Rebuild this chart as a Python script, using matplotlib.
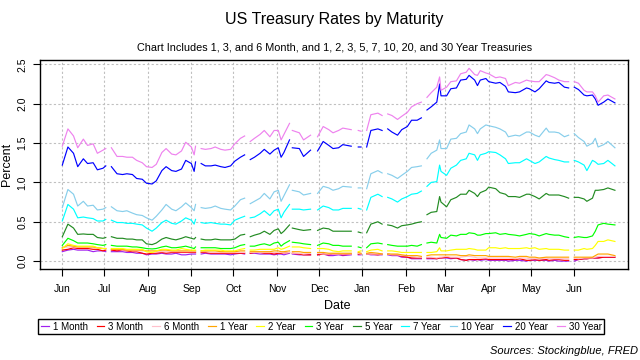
import matplotlib
matplotlib.use("Agg")
import matplotlib.pyplot as plt
import matplotlib.dates as mdates
import pandas as pd

plt.rcParams['font.family'] = ['Liberation Sans', 'DejaVu Sans']

# sample dates (market holidays are added later as empty rows so the lines break)
dates = [
    '2020-06-01', '2020-06-05', '2020-06-09', '2020-06-12', '2020-06-16', '2020-06-19', '2020-06-23',
    '2020-06-26', '2020-06-30', '2020-07-02',
    '2020-07-06', '2020-07-10', '2020-07-14', '2020-07-17', '2020-07-21', '2020-07-24', '2020-07-28', '2020-07-31',
    '2020-08-04', '2020-08-07', '2020-08-11', '2020-08-14', '2020-08-18', '2020-08-21', '2020-08-25', '2020-08-28',
    '2020-09-01', '2020-09-03', '2020-09-04', '2020-09-08', '2020-09-11', '2020-09-15', '2020-09-18', '2020-09-22',
    '2020-09-25', '2020-09-29',
    '2020-10-02', '2020-10-06', '2020-10-09', '2020-10-13', '2020-10-16', '2020-10-20', '2020-10-23', '2020-10-27',
    '2020-10-30',
    '2020-11-02', '2020-11-04', '2020-11-06', '2020-11-10', '2020-11-12', '2020-11-17', '2020-11-20', '2020-11-25',
    '2020-11-30', '2020-12-04', '2020-12-08', '2020-12-11', '2020-12-15', '2020-12-18', '2020-12-24', '2020-12-29',
    '2020-12-31',
    '2021-01-04', '2021-01-07', '2021-01-12', '2021-01-15', '2021-01-19', '2021-01-22', '2021-01-26', '2021-01-29',
    '2021-02-02', '2021-02-05', '2021-02-09', '2021-02-12', '2021-02-16', '2021-02-19', '2021-02-23', '2021-02-25',
    '2021-02-26',
    '2021-03-02', '2021-03-05', '2021-03-09', '2021-03-12', '2021-03-16', '2021-03-18', '2021-03-22', '2021-03-24',
    '2021-03-26', '2021-03-30',
    '2021-04-01', '2021-04-06', '2021-04-09', '2021-04-13', '2021-04-15', '2021-04-20', '2021-04-23', '2021-04-28',
    '2021-04-30',
    '2021-05-04', '2021-05-07', '2021-05-12', '2021-05-14', '2021-05-18', '2021-05-21', '2021-05-25', '2021-05-28',
    '2021-06-01', '2021-06-04', '2021-06-08', '2021-06-10', '2021-06-14', '2021-06-16', '2021-06-18', '2021-06-22',
    '2021-06-25', '2021-06-30',
]
holidays = ['2020-07-03', '2020-09-07', '2020-10-12', '2020-11-11', '2020-11-26', '2020-12-25',
            '2021-01-01', '2021-01-18', '2021-02-15', '2021-05-31']

m1 = [0.12, 0.14, 0.15, 0.14, 0.14, 0.14, 0.12, 0.13, 0.13, 0.12,
      0.12, 0.12, 0.12, 0.11, 0.11, 0.10, 0.10, 0.08,
      0.09, 0.09, 0.10, 0.09, 0.09, 0.10, 0.08, 0.08,
      0.09, 0.09, 0.09, 0.09, 0.10, 0.09, 0.09, 0.09, 0.09, 0.08,
      0.09, 0.10, 0.09, 0.10, 0.10, 0.09, 0.09, 0.09, 0.08,
      0.09, 0.09, 0.08, 0.10, 0.09, 0.08, 0.08, 0.08,
      0.08, 0.09, 0.07, 0.07, 0.08, 0.07, 0.08, 0.08, 0.08,
      0.09, 0.08, 0.08, 0.08, 0.08, 0.07, 0.07, 0.05,
      0.05, 0.03, 0.03, 0.03, 0.03, 0.03, 0.03, 0.04, 0.04,
      0.04, 0.03, 0.04, 0.02, 0.01, 0.02, 0.01, 0.02, 0.01, 0.02,
      0.01, 0.01, 0.01, 0.01, 0.00, 0.01, 0.01, 0.00, 0.01,
      0.01, 0.01, 0.01, 0.00, 0.01, 0.00, 0.00, 0.00,
      0.00, 0.02, 0.03, 0.03, 0.04, 0.04, 0.04, 0.05, 0.05, 0.05]
m3 = [0.14, 0.15, 0.17, 0.16, 0.16, 0.16, 0.15, 0.15, 0.13, 0.14,
      0.14, 0.13, 0.14, 0.13, 0.12, 0.12, 0.10, 0.09,
      0.10, 0.10, 0.11, 0.10, 0.11, 0.11, 0.11, 0.11,
      0.11, 0.11, 0.11, 0.11, 0.11, 0.10, 0.10, 0.10, 0.10, 0.10,
      0.10, 0.10, 0.10, 0.10, 0.11, 0.11, 0.10, 0.10, 0.09,
      0.10, 0.10, 0.10, 0.11, 0.10, 0.09, 0.08, 0.08,
      0.08, 0.09, 0.08, 0.09, 0.09, 0.08, 0.09, 0.09, 0.09,
      0.09, 0.09, 0.08, 0.09, 0.09, 0.08, 0.08, 0.06,
      0.05, 0.04, 0.04, 0.04, 0.04, 0.04, 0.03, 0.04, 0.04,
      0.05, 0.04, 0.04, 0.02, 0.01, 0.02, 0.02, 0.02, 0.02, 0.03,
      0.02, 0.02, 0.02, 0.02, 0.02, 0.02, 0.03, 0.01, 0.01,
      0.02, 0.01, 0.02, 0.01, 0.02, 0.02, 0.01, 0.01,
      0.02, 0.02, 0.03, 0.03, 0.04, 0.04, 0.04, 0.05, 0.05, 0.05]
m6 = [0.17, 0.18, 0.18, 0.18, 0.18, 0.18, 0.18, 0.17, 0.16, 0.16,
      0.15, 0.15, 0.14, 0.14, 0.13, 0.13, 0.13, 0.12,
      0.11, 0.12, 0.12, 0.12, 0.12, 0.12, 0.12, 0.12,
      0.12, 0.12, 0.12, 0.12, 0.12, 0.11, 0.11, 0.11, 0.11, 0.11,
      0.11, 0.11, 0.11, 0.11, 0.11, 0.11, 0.11, 0.11, 0.11,
      0.11, 0.11, 0.10, 0.11, 0.10, 0.10, 0.09, 0.10,
      0.10, 0.09, 0.09, 0.09, 0.09, 0.09, 0.09, 0.10, 0.09,
      0.09, 0.09, 0.09, 0.09, 0.09, 0.08, 0.08, 0.07,
      0.07, 0.06, 0.05, 0.05, 0.05, 0.05, 0.04, 0.05, 0.05,
      0.06, 0.05, 0.05, 0.05, 0.06, 0.06, 0.05, 0.04, 0.04, 0.04,
      0.04, 0.04, 0.04, 0.04, 0.04, 0.03, 0.04, 0.04, 0.03,
      0.03, 0.03, 0.04, 0.03, 0.03, 0.03, 0.03, 0.03,
      0.04, 0.03, 0.04, 0.04, 0.04, 0.05, 0.06, 0.06, 0.06, 0.06]
y1 = [0.17, 0.20, 0.19, 0.18, 0.18, 0.18, 0.18, 0.17, 0.16, 0.16,
      0.15, 0.15, 0.15, 0.14, 0.14, 0.14, 0.14, 0.13,
      0.13, 0.13, 0.14, 0.14, 0.13, 0.13, 0.13, 0.13,
      0.13, 0.13, 0.13, 0.13, 0.13, 0.13, 0.13, 0.12, 0.12, 0.12,
      0.12, 0.13, 0.13, 0.12, 0.12, 0.12, 0.12, 0.12, 0.13,
      0.13, 0.12, 0.12, 0.13, 0.12, 0.12, 0.11, 0.11,
      0.11, 0.11, 0.10, 0.10, 0.10, 0.10, 0.10, 0.11, 0.10,
      0.10, 0.11, 0.10, 0.09, 0.09, 0.09, 0.09, 0.08,
      0.07, 0.07, 0.07, 0.06, 0.07, 0.08, 0.08, 0.08, 0.08,
      0.08, 0.08, 0.08, 0.07, 0.07, 0.08, 0.07, 0.07, 0.07, 0.07,
      0.06, 0.06, 0.06, 0.06, 0.06, 0.05, 0.06, 0.06, 0.05,
      0.05, 0.04, 0.05, 0.05, 0.05, 0.05, 0.05, 0.05,
      0.05, 0.05, 0.05, 0.05, 0.05, 0.07, 0.09, 0.09, 0.09, 0.07]
y2 = [0.16, 0.22, 0.20, 0.19, 0.19, 0.19, 0.19, 0.17, 0.16, 0.16,
      0.16, 0.16, 0.16, 0.15, 0.15, 0.15, 0.15, 0.12,
      0.11, 0.13, 0.15, 0.15, 0.14, 0.14, 0.16, 0.15,
      0.14, 0.14, 0.14, 0.13, 0.14, 0.14, 0.14, 0.14, 0.13, 0.13,
      0.13, 0.15, 0.16, 0.14, 0.14, 0.15, 0.15, 0.15, 0.15,
      0.17, 0.15, 0.16, 0.19, 0.18, 0.18, 0.17, 0.16,
      0.16, 0.16, 0.15, 0.13, 0.12, 0.13, 0.13, 0.12, 0.13,
      0.12, 0.14, 0.15, 0.13, 0.13, 0.13, 0.12, 0.11,
      0.11, 0.11, 0.11, 0.11, 0.11, 0.11, 0.12, 0.17, 0.13,
      0.13, 0.14, 0.15, 0.15, 0.15, 0.16, 0.15, 0.14, 0.14, 0.14,
      0.17, 0.17, 0.16, 0.17, 0.16, 0.16, 0.16, 0.17, 0.16,
      0.17, 0.15, 0.16, 0.15, 0.15, 0.15, 0.14, 0.14,
      0.14, 0.14, 0.16, 0.15, 0.16, 0.20, 0.25, 0.25, 0.27, 0.25]
y3 = [0.20, 0.29, 0.26, 0.23, 0.23, 0.23, 0.22, 0.21, 0.20, 0.21,
      0.20, 0.19, 0.19, 0.19, 0.18, 0.18, 0.17, 0.16,
      0.155, 0.16, 0.18, 0.19, 0.17, 0.17, 0.18, 0.19,
      0.17, 0.16, 0.18, 0.17, 0.17, 0.17, 0.17, 0.16, 0.16, 0.16,
      0.17, 0.20, 0.21, 0.19, 0.19, 0.21, 0.22, 0.20, 0.23,
      0.24, 0.19, 0.22, 0.26, 0.24, 0.23, 0.22, 0.21,
      0.20, 0.23, 0.22, 0.20, 0.20, 0.19, 0.19, 0.18, 0.17,
      0.17, 0.22, 0.23, 0.22, 0.21, 0.20, 0.19, 0.19,
      0.19, 0.20, 0.19, 0.21, 0.23, 0.24, 0.23, 0.34, 0.30,
      0.29, 0.33, 0.32, 0.34, 0.34, 0.36, 0.35, 0.33, 0.33, 0.35,
      0.35, 0.36, 0.34, 0.35, 0.34, 0.33, 0.32, 0.34, 0.35,
      0.34, 0.32, 0.35, 0.34, 0.33, 0.33, 0.31, 0.30,
      0.30, 0.31, 0.30, 0.30, 0.32, 0.38, 0.46, 0.48, 0.47, 0.46]
y5 = [0.31, 0.47, 0.42, 0.34, 0.345, 0.34, 0.34, 0.30, 0.29, 0.30,
      0.31, 0.29, 0.29, 0.28, 0.28, 0.27, 0.27, 0.22,
      0.21, 0.23, 0.28, 0.30, 0.28, 0.27, 0.29, 0.31,
      0.29, 0.28, 0.30, 0.28, 0.27, 0.27, 0.28, 0.27, 0.27, 0.27,
      0.28, 0.33, 0.34, 0.31, 0.33, 0.35, 0.38, 0.34, 0.39,
      0.41, 0.35, 0.38, 0.46, 0.42, 0.40, 0.39, 0.40,
      0.39, 0.42, 0.41, 0.38, 0.38, 0.38, 0.38, 0.37, 0.36,
      0.36, 0.47, 0.50, 0.47, 0.46, 0.45, 0.42, 0.45,
      0.46, 0.47, 0.49, 0.50, 0.59, 0.62, 0.63, 0.82, 0.75,
      0.69, 0.78, 0.81, 0.85, 0.85, 0.90, 0.86, 0.82, 0.87, 0.90,
      0.94, 0.92, 0.87, 0.85, 0.82, 0.82, 0.81, 0.85, 0.85,
      0.82, 0.79, 0.86, 0.84, 0.84, 0.84, 0.82, 0.80,
      0.81, 0.81, 0.79, 0.76, 0.80, 0.90, 0.90, 0.91, 0.93, 0.90]
y7 = [0.51, 0.72, 0.66, 0.55, 0.56, 0.55, 0.54, 0.51, 0.51, 0.53,
      0.52, 0.49, 0.49, 0.48, 0.48, 0.47, 0.46, 0.42,
      0.38, 0.42, 0.49, 0.52, 0.48, 0.47, 0.51, 0.55,
      0.52, 0.47, 0.53, 0.49, 0.48, 0.49, 0.48, 0.47, 0.47, 0.46,
      0.52, 0.55, 0.57, 0.55, 0.56, 0.60, 0.64, 0.58, 0.64,
      0.66, 0.55, 0.62, 0.72, 0.66, 0.66, 0.65, 0.66,
      0.65, 0.70, 0.68, 0.65, 0.65, 0.67, 0.67, 0.67, 0.66,
      0.65, 0.81, 0.85, 0.82, 0.81, 0.79, 0.75, 0.79,
      0.82, 0.85, 0.86, 0.89, 0.95, 1.00, 1.01, 1.22, 1.14,
      1.09, 1.18, 1.22, 1.28, 1.30, 1.37, 1.35, 1.28, 1.35, 1.37,
      1.39, 1.38, 1.35, 1.30, 1.24, 1.25, 1.25, 1.30, 1.28,
      1.24, 1.26, 1.33, 1.31, 1.29, 1.28, 1.26, 1.26,
      1.28, 1.26, 1.22, 1.15, 1.28, 1.26, 1.23, 1.24, 1.28, 1.21]
y10 = [0.68, 0.91, 0.85, 0.70, 0.76, 0.70, 0.71, 0.65, 0.66, 0.68,
       0.69, 0.64, 0.63, 0.64, 0.61, 0.59, 0.58, 0.55,
       0.52, 0.57, 0.65, 0.72, 0.66, 0.64, 0.69, 0.74,
       0.68, 0.64, 0.72, 0.68, 0.67, 0.68, 0.70, 0.67, 0.66, 0.65,
       0.70, 0.78, 0.80, 0.73, 0.76, 0.80, 0.86, 0.79, 0.88,
       0.90, 0.76, 0.83, 0.97, 0.90, 0.88, 0.84, 0.86,
       0.86, 0.95, 0.93, 0.90, 0.92, 0.95, 0.94, 0.93, 0.93,
       0.92, 1.11, 1.15, 1.12, 1.11, 1.09, 1.05, 1.09,
       1.14, 1.19, 1.20, 1.21, 1.30, 1.37, 1.41, 1.54, 1.43,
       1.43, 1.55, 1.56, 1.62, 1.64, 1.73, 1.68, 1.62, 1.68, 1.73,
       1.72, 1.70, 1.68, 1.64, 1.58, 1.60, 1.59, 1.64, 1.64,
       1.60, 1.58, 1.69, 1.64, 1.64, 1.63, 1.58, 1.60,
       1.62, 1.57, 1.52, 1.46, 1.50, 1.56, 1.45, 1.48, 1.52, 1.44]
y20 = [1.22, 1.45, 1.37, 1.20, 1.30, 1.24, 1.25, 1.16, 1.18, 1.21,
       1.20, 1.11, 1.10, 1.11, 1.10, 1.05, 1.04, 0.99,
       0.98, 1.02, 1.15, 1.20, 1.15, 1.14, 1.17, 1.28,
       1.24, 1.14, 1.26, 1.24, 1.21, 1.21, 1.22, 1.20, 1.19, 1.21,
       1.27, 1.32, 1.35, 1.29, 1.32, 1.37, 1.42, 1.36, 1.41,
       1.44, 1.32, 1.38, 1.54, 1.44, 1.43, 1.33, 1.41,
       1.40, 1.52, 1.47, 1.43, 1.44, 1.48, 1.46, 1.45, 1.45,
       1.45, 1.66, 1.68, 1.66, 1.68, 1.64, 1.60, 1.67,
       1.71, 1.79, 1.79, 1.82, 1.92, 1.96, 2.02, 2.25, 2.10,
       2.10, 2.19, 2.20, 2.30, 2.31, 2.36, 2.30, 2.23, 2.30, 2.32,
       2.28, 2.26, 2.27, 2.22, 2.15, 2.14, 2.15, 2.20, 2.19,
       2.15, 2.19, 2.29, 2.27, 2.26, 2.27, 2.21, 2.20,
       2.21, 2.18, 2.11, 2.10, 2.11, 2.06, 1.98, 2.02, 2.06, 2.01]
y30 = [1.46, 1.68, 1.59, 1.44, 1.55, 1.47, 1.49, 1.37, 1.41, 1.43,
       1.44, 1.33, 1.33, 1.32, 1.32, 1.28, 1.25, 1.20,
       1.19, 1.23, 1.38, 1.43, 1.36, 1.35, 1.40, 1.51,
       1.45, 1.35, 1.46, 1.43, 1.42, 1.43, 1.45, 1.42, 1.41, 1.42,
       1.49, 1.56, 1.59, 1.52, 1.56, 1.61, 1.66, 1.58, 1.66,
       1.66, 1.54, 1.61, 1.75, 1.66, 1.63, 1.54, 1.60,
       1.58, 1.71, 1.67, 1.63, 1.66, 1.69, 1.67, 1.66, 1.65,
       1.66, 1.86, 1.88, 1.85, 1.87, 1.85, 1.80, 1.84,
       1.89, 1.96, 2.00, 2.02, 2.08, 2.14, 2.21, 2.34, 2.17,
       2.21, 2.28, 2.29, 2.38, 2.40, 2.45, 2.37, 2.36, 2.42, 2.39,
       2.38, 2.33, 2.34, 2.32, 2.23, 2.27, 2.26, 2.30, 2.29,
       2.28, 2.28, 2.37, 2.36, 2.33, 2.30, 2.28, 2.28,
       2.28, 2.26, 2.17, 2.15, 2.15, 2.10, 2.02, 2.10, 2.11, 2.06]

labels = ['1 Month', '3 Month', '6 Month', '1 Year', '2 Year', '3 Year',
          '5 Year', '7 Year', '10 Year', '20 Year', '30 Year']
colors = ['#A020F0', '#FF0000', '#FFC0CB', '#FFA500', '#FFFF00', '#00FF00',
          '#228B22', '#00FFFF', '#87CEEB', '#0000FF', '#EE82EE']
series = [m1, m3, m6, y1, y2, y3, y5, y7, y10, y20, y30]

# month ticks shown on the x axis
month_ticks = pd.date_range('2020-06-01', '2021-06-01', freq='MS')

df = pd.DataFrame(dict(zip(labels, series)), index=pd.to_datetime(dates))
df = df.reindex(df.index.union(pd.to_datetime(holidays)))

fig = plt.figure(figsize=(6.4, 3.6), dpi=100)
ax = fig.add_axes([0.0625, 0.2528, 0.9187, 0.5805])

for lab, col in zip(labels, colors):
    ax.plot(df.index, df[lab], color=col, lw=0.85, label=lab)

start = mdates.date2num(pd.Timestamp('2020-06-01'))
ax.set_xlim(start - 15.9, start + 403.3)
ax.set_ylim(-0.10, 2.555)

ax.set_xticks(month_ticks)
ax.xaxis.set_major_formatter(mdates.DateFormatter('%b'))
ax.set_yticks([0, 0.5, 1.0, 1.5, 2.0, 2.5])
ax.set_yticklabels(['0.0', '0.5', '1.0', '1.5', '2.0', '2.5'], rotation=90, va='center')
ax.tick_params(axis='both', direction='out', length=5, width=0.8, colors='black', labelsize=7.5)
ax.tick_params(axis='x', pad=6)
ax.tick_params(axis='y', pad=4)

ax.grid(True, color='#c0c0c0', linestyle=(0, (2, 2)), linewidth=0.8)
ax.set_axisbelow(True)
for s in ax.spines.values():
    s.set_color('black')
    s.set_linewidth(1)

fig.text(0.522, 0.947, 'US Treasury Rates by Maturity', ha='center', va='center', fontsize=11.5)
fig.text(0.522, 0.869, 'Chart Includes 1, 3, and 6 Month, and 1, 2, 3, 5, 7, 10, 20, and 30 Year Treasuries',
         ha='center', va='center', fontsize=7.8)
fig.text(0.011, 0.543, 'Percent', rotation=90, ha='center', va='center', fontsize=9)
fig.text(0.527, 0.151, 'Date', ha='center', va='center', fontsize=9)
fig.text(0.997, 0.025, 'Sources: Stockingblue, FRED', ha='right', va='center', fontsize=8, style='italic')

leg = fig.legend(loc='center', bbox_to_anchor=(0.0525, 0.0714, 0.899, 0.0425), mode='expand',
                 ncol=11, fontsize=7, handlelength=0.8, handletextpad=0.4, columnspacing=0.5,
                 borderpad=0.25, fancybox=False, framealpha=1)
leg.get_frame().set_edgecolor('black')
leg.get_frame().set_linewidth(1)

fig.savefig('out.png', dpi=100)
